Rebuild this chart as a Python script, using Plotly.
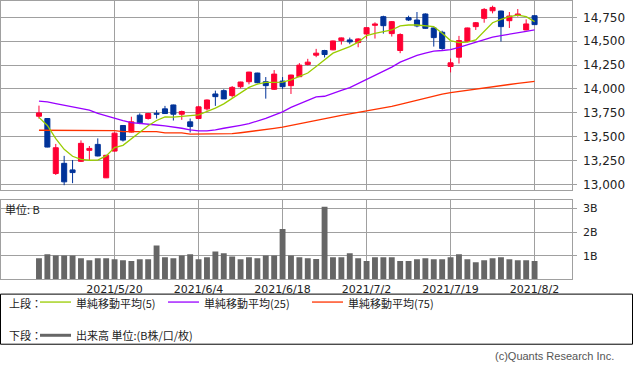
import plotly.graph_objects as go

# ---------------- data ----------------
OPEN = [13715, 13691, 13115, 13222, 13153, 13243, 13358, 13420, 13070, 13350,
        13618, 13549, 13726, 13691, 13745, 13792, 13833, 13736, 13656, 13691,
        13792, 13948, 13983, 13931, 14024, 14076, 14167, 14076, 13997, 14083,
        14035, 14129, 14257, 14354, 14403, 14410, 14507, 14514, 14486, 14576,
        14667, 14757, 14580, 14403, 14747, 14722, 14785, 14639, 14594, 14236,
        14333, 14500, 14653, 14740, 14819, 14816, 14715, 14771, 14618, 14767]
CLOSE = [13750, 13392, 13385, 13028, 13125, 13431, 13378, 13299, 13306, 13538,
         13465, 13656, 13646, 13743, 13735, 13743, 13736, 13764, 13608, 13813,
         13885, 13920, 13896, 14017, 14073, 14177, 14066, 14035, 14156, 14024,
         14146, 14250, 14281, 14375, 14361, 14503, 14535, 14493, 14524, 14642,
         14681, 14663, 14705, 14570, 14722, 14660, 14635, 14538, 14424, 14274,
         14507, 14639, 14694, 14833, 14854, 14653, 14764, 14785, 14681, 14674]
HIGH = [13826, 13695, 13425, 13300, 13257, 13462, 13403, 13483, 13310, 13545,
        13620, 13710, 13745, 13750, 13778, 13823, 13836, 13774, 13691, 13823,
        13890, 13983, 13997, 14031, 14076, 14180, 14170, 14125, 14198, 14125,
        14150, 14271, 14316, 14420, 14410, 14506, 14538, 14538, 14531, 14645,
        14698, 14767, 14712, 14583, 14767, 14806, 14792, 14642, 14610, 14319,
        14556, 14642, 14701, 14847, 14872, 14820, 14806, 14837, 14729, 14770]
LOW = [13690, 13390, 13100, 12993, 13014, 13236, 13257, 13295, 13068, 13345,
       13450, 13545, 13632, 13680, 13691, 13740, 13670, 13677, 13545, 13684,
       13774, 13823, 13896, 13910, 14007, 14049, 14060, 13899, 13990, 14000,
       13948, 14125, 14247, 14333, 14330, 14406, 14465, 14469, 14437, 14528,
       14528, 14580, 14549, 14375, 14712, 14646, 14632, 14444, 14410, 14174,
       14267, 14490, 14618, 14694, 14792, 14497, 14639, 14757, 14615, 14670]

MA5 = [13703, 13618, 13480, 13368, 13296, 13264, 13254, 13255, 13300, 13386,
       13410, 13480, 13550, 13615, 13670, 13708, 13705, 13716, 13722, 13730,
       13764, 13799, 13844, 13903, 13965, 14017, 14052, 14069, 14069, 14073,
       14095, 14127, 14167, 14236, 14306, 14375, 14410, 14444, 14490, 14559,
       14583, 14601, 14618, 14660, 14670, 14670, 14665, 14653, 14583, 14507,
       14486, 14490, 14514, 14601, 14694, 14729, 14757, 14774, 14757, 14705]
MA25 = [13872, 13865, 13848, 13831, 13813, 13796, 13779, 13744, 13717, 13689,
        13668, 13647, 13641, 13634, 13623, 13613, 13602, 13589, 13571, 13561,
        13561, 13571, 13589, 13602, 13620, 13637, 13661, 13693, 13727, 13761,
        13807, 13841, 13876, 13917, 13924, 13951, 13986, 14014, 14056, 14097,
        14142, 14188, 14229, 14281, 14316, 14351, 14375, 14396, 14403, 14413,
        14437, 14465, 14490, 14517, 14542, 14559, 14576, 14594, 14604, 14618]
MA75 = [13568, 13568, 13568, 13568, 13568, 13568, 13568, 13568, 13568, 13565,
        13554, 13554, 13554, 13554, 13554, 13540, 13540, 13540, 13528, 13528,
        13528, 13528, 13528, 13532, 13542, 13552, 13562, 13575, 13588, 13600,
        13618, 13638, 13658, 13678, 13695, 13710, 13725, 13740, 13755, 13770,
        13785, 13800, 13818, 13838, 13860, 13885, 13908, 13928, 13946, 13962,
        13975, 13990, 14002, 14014, 14025, 14036, 14047, 14058, 14069, 14080]

VOLUME_B = [0.89, 1.06, 1.01, 1.01, 1.01, 0.89, 0.81, 0.89, 0.89, 0.85,
            0.81, 0.77, 0.85, 0.85, 1.43, 0.93, 0.89, 1.01, 1.06, 0.85,
            0.93, 1.18, 1.10, 0.97, 0.85, 0.93, 0.89, 1.01, 1.01, 2.13,
            1.01, 0.93, 0.89, 0.86, 3.08, 0.93, 0.93, 1.10, 0.89, 0.77,
            0.93, 0.93, 0.93, 0.77, 0.77, 0.85, 0.89, 0.85, 0.85, 0.93,
            1.06, 0.85, 0.72, 0.81, 0.89, 0.93, 0.85, 0.81, 0.81, 0.77]

DATE_LABELS = ["2021/5/20", "2021/6/4", "2021/6/18", "2021/7/2", "2021/7/19", "2021/8/2"]
DATE_LABEL_INDEX = [9, 19, 29, 39, 49, 59]
PRICE_TICKS = [13000, 13250, 13500, 13750, 14000, 14250, 14500, 14750]
VOL_TICKS = [1, 2, 3]
VOL_TICK_TEXT = ["1B", "2B", "3B"]

# ---------------- styling ----------------
W, H = 633, 372
def px(v): return v / W
def py(v): return 1 - v / H

RED = "#FF0033"
BLUE = "#003399"
GRID = "#A0A0A0"
TXT = "#222222"
JP = "Noto Sans CJK JP"
LAT = "DejaVu Sans"

x = list(range(len(OPEN)))
up = [c >= o for o, c in zip(OPEN, CLOSE)]
cols = [RED if u else BLUE for u in up]

fig = go.Figure()

# wicks
for flag, col in [(True, RED), (False, BLUE)]:
    wx, wy = [], []
    for i in x:
        if up[i] == flag:
            wx += [i, i, None]
            wy += [LOW[i], HIGH[i], None]
    fig.add_trace(go.Scatter(x=wx, y=wy, mode="lines", line=dict(color=col, width=1),
                             xaxis="x", yaxis="y", hoverinfo="skip"))

# bodies
fig.add_trace(go.Bar(x=x, base=[min(o, c) for o, c in zip(OPEN, CLOSE)],
                     y=[abs(c - o) for o, c in zip(OPEN, CLOSE)],
                     width=0.6, marker=dict(color=cols, line=dict(color=cols, width=1)),
                     xaxis="x", yaxis="y", hoverinfo="skip"))

# moving averages
for series, col in [(MA75, "#FF3300"), (MA25, "#9900FF"), (MA5, "#99CC00")]:
    fig.add_trace(go.Scatter(x=x, y=series, mode="lines", line=dict(color=col, width=1.3),
                             xaxis="x", yaxis="y", hoverinfo="skip"))

# volume
fig.add_trace(go.Bar(x=x, y=VOLUME_B, width=0.7, marker=dict(color="#666666", line=dict(width=0)),
                     xaxis="x2", yaxis="y2", hoverinfo="skip"))

xr = [-4.52, 63.42]
common_x = dict(range=xr, tickvals=DATE_LABEL_INDEX, showgrid=True, gridcolor=GRID, gridwidth=1,
                showline=True, mirror=True, linecolor=GRID, linewidth=1, zeroline=False,
                domain=[px(1), px(571.7)], fixedrange=True)

fig.update_layout(
    width=W, height=H, margin=dict(l=0, r=0, t=0, b=0),
    paper_bgcolor="white", plot_bgcolor="white", showlegend=False,
    xaxis=dict(**common_x, anchor="y", showticklabels=False, ticks=""),
    yaxis=dict(domain=[py(190.7), py(0.5)], range=[12941, 14916], side="right",
               tickvals=PRICE_TICKS, tickformat=",d", showgrid=True, gridcolor=GRID,
               showline=True, mirror=True, linecolor=GRID, zeroline=False,
               ticks="outside", ticklen=4, tickcolor=GRID, ticklabelstandoff=4,
               tickfont=dict(family=LAT, size=12, color=TXT), anchor="x"),
    xaxis2=dict(**common_x, anchor="y2", ticktext=DATE_LABELS, ticks="",
                tickfont=dict(family=LAT, size=11, color=TXT)),
    yaxis2=dict(domain=[py(280.5), py(201)], range=[0, 3.35], side="right",
                tickvals=VOL_TICKS, ticktext=VOL_TICK_TEXT, showgrid=True, gridcolor=GRID,
                showline=True, mirror=True, linecolor=GRID, zeroline=False,
                ticks="outside", ticklen=4, tickcolor=GRID, ticklabelstandoff=4,
                tickfont=dict(family=LAT, size=11, color=TXT), anchor="x2"),
)

annotations = []
shapes = []

def text(xp, yp, s, size=11, color=TXT, family=JP, anchor="left"):
    annotations.append(dict(x=px(xp), y=py(yp), xref="paper", yref="paper", text=s,
                            showarrow=False, xanchor=anchor, yanchor="middle",
                            borderpad=0, font=dict(family=family, size=size, color=color)))

text(4, 210, "単位: B")

# legend box
ROW1, ROW2 = 304.5, 337
shapes.append(dict(type="rect", xref="paper", yref="paper", x0=px(0.5), x1=px(632.5),
                   y0=py(346), y1=py(295.5), line=dict(color="black", width=1)))
text(8, ROW1, "上段：")
text(8, ROW2, "下段：")
for x0, x1, col, label in [(40, 71, "#99CC00", "単純移動平均(5)"),
                           (168, 199, "#9900FF", "単純移動平均(25)"),
                           (312, 343, "#FF3300", "単純移動平均(75)")]:
    shapes.append(dict(type="line", xref="paper", yref="paper", x0=px(x0), x1=px(x1),
                       y0=py(ROW1 - 1), y1=py(ROW1 - 1), line=dict(color=col, width=1.3)))
    text(x1 + 4, ROW1, label)
shapes.append(dict(type="line", xref="paper", yref="paper", x0=px(40), x1=px(71),
                   y0=py(ROW2), y1=py(ROW2), line=dict(color="#666666", width=3)))
text(75, ROW2, "出来高 単位:(B株/口/枚)")

text(615, 358, "(c)Quants Research Inc.", size=11, color="#555555", family="Liberation Sans", anchor="right")

fig.update_layout(annotations=annotations, shapes=shapes)
fig.write_html("out.html", config={"staticPlot": True, "displayModeBar": False},
               post_script="document.body.style.margin='0';document.body.style.overflow='hidden';")
